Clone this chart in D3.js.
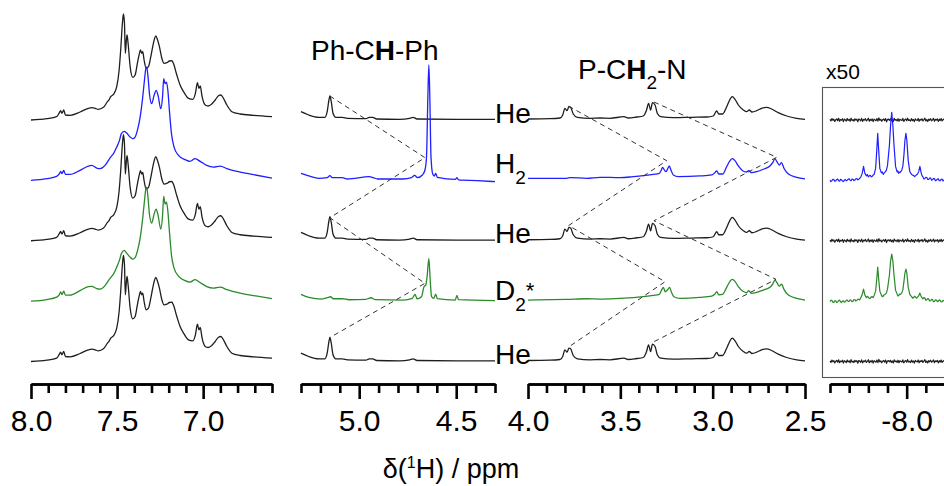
<!DOCTYPE html>
<html>
<head>
<meta charset="utf-8">
<script src="https://cdn.jsdelivr.net/npm/d3@7"></script>
<style>
  body { margin: 0; background: #fff; }
  svg text { font-family: "Liberation Sans", Arial, sans-serif; fill: #000; }
</style>
</head>
<body>
<svg id="chart" width="944" height="486"></svg>
<script>
// ---- Spectra: [chemical shift (ppm), intensity (a.u.)] ----

// Stacking order of the five spectra, top to bottom
const traceGases = ["He", "H2", "He", "D2", "He"];

// Aromatic region 8.0 - 6.6 ppm
const aromaticHe = [
  [8.000,0],[7.909,1.3],[7.851,3.3],[7.835,7.3],[7.828,9.3],[7.820,6.7],[7.810,10],[7.800,5],[7.773,4.7],
  [7.715,8],[7.667,11.7],[7.647,12.3],[7.628,11.7],[7.609,10.7],[7.579,12.7],[7.556,18.3],[7.545,20.7],
  [7.537,23.3],[7.521,25.7],[7.502,33.3],[7.488,50],[7.479,70],[7.469,96.7],[7.463,106],[7.457,96.7],
  [7.452,66.7],[7.446,80],[7.442,85],[7.436,76.7],[7.424,53.3],[7.409,42.7],[7.395,45],[7.382,56.7],
  [7.370,66.7],[7.364,70],[7.357,66.7],[7.351,68.3],[7.343,60],[7.331,51.7],[7.318,53.3],[7.304,63.3],
  [7.289,76.7],[7.275,84],[7.266,80.7],[7.254,73.3],[7.240,61.7],[7.227,56.7],[7.211,57.3],[7.196,59],
  [7.182,59.3],[7.173,56.7],[7.153,45],[7.134,35],[7.110,27.3],[7.085,21.7],[7.060,20.7],[7.045,26.7],
  [7.033,37.3],[7.025,31.7],[7.017,34],[7.006,23.3],[6.988,15],[6.971,14],[6.950,16],[6.930,20],
  [6.911,24.3],[6.897,25],[6.882,21.7],[6.862,15],[6.833,8.3],[6.785,6],[6.707,4.7],[6.600,3.3]
];
const aromaticH2 = [
  [8.000,0],[7.909,1.7],[7.851,4],[7.835,6.7],[7.828,9],[7.820,6.7],[7.810,10],[7.800,6],[7.773,6],
  [7.715,10],[7.667,14.3],[7.647,15],[7.618,12.3],[7.599,11.7],[7.570,15],[7.550,20],[7.537,23.3],
  [7.521,26.7],[7.502,33.3],[7.486,40],[7.475,46.7],[7.459,49],[7.444,47.3],[7.424,43.3],[7.409,41.7],
  [7.395,43.3],[7.382,50],[7.366,63.3],[7.351,83.3],[7.341,100],[7.333,111.7],[7.328,113.3],[7.320,103.3],
  [7.312,86.7],[7.299,76.7],[7.285,85],[7.273,90],[7.262,85],[7.246,71.7],[7.236,83.3],[7.229,101.7],
  [7.221,96.7],[7.213,98.3],[7.205,90],[7.196,70],[7.184,46.7],[7.169,33.3],[7.143,25],[7.105,20.7],
  [7.076,19],[7.047,21.7],[7.017,19],[6.979,15],[6.940,13.3],[6.901,14.3],[6.862,11.7],[6.785,8.3],
  [6.707,5.7],[6.600,2.3]
];
const aromaticD2 = [
  [8.000,0],[7.909,1.6],[7.851,4],[7.835,6.5],[7.828,9.2],[7.820,6.5],[7.810,10],[7.800,6],[7.773,6],
  [7.715,10.5],[7.667,14.5],[7.647,14.8],[7.618,12.5],[7.599,12],[7.570,15.5],[7.550,20.5],[7.537,23.5],
  [7.521,27],[7.502,34],[7.486,41],[7.475,47.5],[7.459,50.7],[7.444,48],[7.424,44],[7.409,42],
  [7.395,43.5],[7.382,50],[7.366,63],[7.351,83],[7.341,100],[7.333,112],[7.328,114],[7.320,103],
  [7.312,87],[7.299,78],[7.285,87],[7.273,92],[7.262,86],[7.246,72],[7.236,85],[7.229,104.7],
  [7.221,97],[7.213,99],[7.205,90],[7.196,70],[7.184,46],[7.169,33],[7.143,25],[7.105,20.5],
  [7.076,19],[7.047,21.5],[7.017,18.5],[6.979,14.5],[6.940,13],[6.901,14],[6.862,11.5],[6.785,8],
  [6.707,5.5],[6.600,2.5]
];

// Methine (Ph-CH-Ph) region 5.3 - 4.3 ppm
const methineHe = [
  [5.300,8.3],[5.260,5],[5.208,2.7],[5.177,2.7],[5.165,8.3],[5.156,20],[5.151,24],[5.144,18.3],[5.135,6.7],
  [5.121,2.7],[5.087,2.7],[5.061,1.7],[4.965,1.3],[4.948,2.7],[4.931,2.7],[4.910,1],[4.792,0.7],[4.740,1.7],
  [4.722,2.7],[4.702,1],[4.496,0.7],[4.300,0.7]
];
const methineH2 = [
  [5.300,7],[5.260,4.4],[5.208,2],[5.165,2.7],[5.151,4.7],[5.139,2.7],[5.087,2.7],[5.061,1.4],[4.948,3.7],
  [4.927,2.7],[4.905,1.4],[4.774,1.4],[4.731,2.7],[4.714,5],[4.700,2.7],[4.674,5.4],[4.661,10.4],
  [4.653,23.7],[4.646,83.7],[4.641,115.4],[4.636,83.7],[4.630,23.7],[4.621,6.4],[4.613,4.4],[4.606,7],
  [4.597,3],[4.505,1],[4.496,2.7],[4.488,0.4],[4.392,-0.3],[4.300,-1.3]
];
const methineD2 = [
  [5.300,6.8],[5.260,3.8],[5.191,2.1],[5.165,3.4],[5.147,4.4],[5.134,2.4],[5.087,2.4],[5.052,1.4],
  [4.965,1.8],[4.939,3.4],[4.917,1.4],[4.774,1.1],[4.726,2.8],[4.712,6.8],[4.702,2.4],[4.679,4.4],
  [4.666,14.4],[4.657,16.1],[4.650,24.4],[4.641,42.8],[4.634,21],[4.627,4.4],[4.615,2.8],[4.606,7.1],
  [4.597,2.4],[4.505,1.1],[4.496,5.8],[4.488,1.4],[4.300,0.4]
];

// Methylene (P-CH2-N) region 4.0 - 2.5 ppm
const methyleneHe = [
  [4.000,1],[3.881,1.3],[3.827,2],[3.812,5],[3.800,11.7],[3.789,9.3],[3.778,13.3],[3.769,12.7],[3.755,6],
  [3.733,2.7],[3.664,1.7],[3.610,2],[3.556,1.7],[3.480,3.3],[3.457,2],[3.411,3],[3.376,4],[3.358,10],
  [3.347,16.7],[3.336,10],[3.326,17.3],[3.312,15],[3.300,6.7],[3.282,3.3],[3.213,2.3],[3.114,2.7],
  [3.032,3],[2.997,4],[2.978,9],[2.967,6],[2.946,6],[2.924,13.3],[2.906,20.7],[2.894,23.3],[2.879,20.7],
  [2.861,15],[2.834,10],[2.816,8.3],[2.802,10],[2.787,8],[2.762,9.3],[2.735,11.7],[2.708,12.7],
  [2.681,11],[2.645,7.3],[2.599,4],[2.545,1.7],[2.500,0.7]
];
const methyleneH2 = [
  [4.000,2.1],[3.790,2.1],[3.772,2.7],[3.682,2.1],[3.610,3.1],[3.502,2.7],[3.430,3.7],[3.376,4.7],
  [3.322,6.1],[3.289,7.1],[3.278,10.4],[3.271,13.1],[3.262,10.4],[3.253,8.7],[3.242,12.1],[3.235,14.4],
  [3.226,10.4],[3.213,5.4],[3.186,3.7],[3.069,4.4],[3.005,5.4],[2.988,7.7],[2.978,9.4],[2.967,6.4],
  [2.946,6.4],[2.924,13.7],[2.906,19.7],[2.894,21.7],[2.879,19.7],[2.861,14.4],[2.838,9.7],[2.816,8.4],
  [2.805,9.7],[2.789,7.7],[2.762,8.7],[2.726,11.1],[2.690,14.4],[2.675,17.7],[2.663,21.7],[2.652,18.7],
  [2.639,15.4],[2.627,17.7],[2.614,12.1],[2.590,6.4],[2.545,3.1],[2.500,1.4]
];
const methyleneD2 = [
  [4.000,1.1],[3.790,1.8],[3.682,2.4],[3.610,2.1],[3.502,2.8],[3.430,3.4],[3.376,4.4],[3.322,5.8],
  [3.289,6.8],[3.278,10.4],[3.267,13.8],[3.257,9.4],[3.245,11.1],[3.233,13.8],[3.224,9.4],[3.210,4.4],
  [3.177,2.8],[3.069,3.8],[3.005,5.1],[2.988,7.1],[2.978,9.4],[2.967,6.4],[2.946,6.8],[2.924,13.8],
  [2.906,19.8],[2.894,21.8],[2.879,19.8],[2.861,14.4],[2.838,10.1],[2.816,8.4],[2.805,10.4],[2.789,7.8],
  [2.762,8.8],[2.726,11.1],[2.690,13.8],[2.675,17.1],[2.663,21.1],[2.652,18.4],[2.639,15.1],[2.627,17.1],
  [2.614,11.8],[2.590,6.1],[2.545,2.8],[2.500,1.1]
];

// Hydride region (x50): He spectra sampled every 0.005 ppm from -7.60 ppm
const hydrideStart = -7.60;
const hydrideStep = -0.005;
const hydrideHe = [
  0.6,-0.9,1.4,-0.3,0.8,-1.5,0.2,1.1,-0.7,1.7,-1.2,0.4,-0.2,1.3,-1.6,0.9,0.1,-1.0,1.5,-0.4,
  0.7,-1.3,1.9,-0.6,0.3,-1.1,1.2,-0.2,0.8,-1.7,1.0,0.4,-0.8,1.6,-1.4,0.5,-0.1,1.3,-0.9,0.2,
  1.8,-1.2,0.6,-0.5,1.1,-1.6,0.9,0.0,-0.7,1.4,-1.1,2.1,-0.4,0.7,-1.3,0.3,1.0,-0.6,1.5,-1.8,
  0.4,0.9,-0.3,1.2,-1.0,0.6,-1.5,1.7,-0.2,0.5,-0.9,1.3,-1.2,0.8,0.1,-0.6,1.6,-1.4,0.3,1.0,
  -0.8,1.9,-0.5,0.2,-1.1,1.4,-0.7,0.6,-1.6,1.1,0.0,-0.4,1.5,-1.3,0.7,-0.2,1.2,-0.9,0.4,1.8,
  -1.0,0.5,-1.5,0.9,-0.3,1.3,-0.8,0.2,1.6,-1.2,0.6,-0.1,1.0,-1.4,0.8,-0.6,1.4,-0.9,0.3,1.1,-0.5
];
const hydrideH2 = [
  [-7.600,0.3],[-7.605,-1.2],[-7.610,-0.2],[-7.615,1.1],[-7.620,0.8],[-7.625,-0.9],[-7.630,-0.5],[-7.635,0.9],
  [-7.640,1.2],[-7.645,-0.3],[-7.650,-0.8],[-7.655,1.0],[-7.660,0.5],[-7.665,-0.6],[-7.670,-1.2],[-7.675,0.4],
  [-7.680,0.9],[-7.685,-0.5],[-7.690,0.2],[-7.695,1.3],[-7.700,1.5],[-7.705,0.1],[-7.710,-0.3],[-7.715,1.4],
  [-7.720,1.1],[-7.725,-0.2],[-7.730,0.4],[-7.735,1.6],[-7.740,1.8],[-7.745,0.6],[-7.750,1.0],[-7.755,2.2],
  [-7.760,3.0],[-7.768,7],[-7.775,14],[-7.782,7],[-7.790,4.5],[-7.795,5.8],[-7.800,3.5],[-7.805,4.6],
  [-7.810,5.0],[-7.815,3.6],[-7.820,4.0],[-7.825,5.4],[-7.830,6.0],[-7.838,12],[-7.844,30],[-7.849,47],
  [-7.854,30],[-7.860,12],[-7.868,7.5],[-7.873,8.4],[-7.878,6.0],[-7.882,7.2],[-7.886,8.0],[-7.894,10],
  [-7.900,15],[-7.910,35],[-7.916,55],[-7.922,68],[-7.928,55],[-7.934,35],[-7.942,14],[-7.950,8.5],
  [-7.954,9.4],[-7.958,7],[-7.962,8.2],[-7.966,8],[-7.974,10],[-7.980,14],[-7.986,26],[-7.991,40],
  [-7.996,47],[-8.001,40],[-8.008,20],[-8.016,9],[-8.021,7.2],[-8.026,6],[-8.031,5.1],[-8.036,5],
  [-8.041,3.8],[-8.046,4.5],[-8.051,5.6],[-8.056,6],[-8.063,9],[-8.069,14],[-8.075,8],[-8.080,4.8],
  [-8.085,3.5],[-8.090,1.3],[-8.095,2.0],[-8.100,3.1],[-8.105,2.8],[-8.110,0.9],[-8.115,1.0],[-8.120,2.4],
  [-8.125,2.5],[-8.130,0.2],[-8.135,0.6],[-8.140,1.9],[-8.145,1.8],[-8.150,-0.4],[-8.155,0.2],[-8.160,1.3],
  [-8.165,1.5],[-8.170,-0.3],[-8.175,-0.4],[-8.180,1.0],[-8.185,1.2],[-8.190,-0.5],[-8.195,0.5]
];
const hydrideD2 = [
  [-7.600,-0.5],[-7.605,0.9],[-7.610,0.7],[-7.615,-1.0],[-7.620,-1.3],[-7.625,0.3],[-7.630,0.4],[-7.635,-1.4],
  [-7.640,-0.8],[-7.645,0.6],[-7.650,1.0],[-7.655,-0.7],[-7.660,-1.5],[-7.665,0.0],[-7.670,0.2],[-7.675,-1.1],
  [-7.680,-0.6],[-7.685,0.8],[-7.690,1.1],[-7.695,-0.4],[-7.700,-0.2],[-7.705,1.2],[-7.710,0.9],[-7.715,-0.6],
  [-7.720,0.0],[-7.725,1.5],[-7.730,1.4],[-7.735,0.1],[-7.740,0.6],[-7.745,2.0],[-7.750,1.9],[-7.755,1.2],
  [-7.760,3.2],[-7.768,6.5],[-7.775,12],[-7.782,6],[-7.790,3.5],[-7.795,4.8],[-7.800,4.0],[-7.805,2.6],
  [-7.810,2.8],[-7.815,4.2],[-7.820,4.5],[-7.825,3.4],[-7.830,5.5],[-7.838,10],[-7.844,22],[-7.849,34],
  [-7.854,22],[-7.860,10],[-7.868,6],[-7.873,4.5],[-7.878,5.0],[-7.882,6.4],[-7.886,6.5],[-7.894,8],
  [-7.900,12],[-7.910,26],[-7.916,40],[-7.922,47],[-7.928,40],[-7.934,26],[-7.942,11],[-7.950,7],
  [-7.954,5.2],[-7.958,5.5],[-7.962,7.1],[-7.966,6.5],[-7.974,8],[-7.980,11],[-7.986,20],[-7.991,28],
  [-7.996,32],[-8.001,28],[-8.008,14],[-8.016,7],[-8.021,5.5],[-8.026,4.5],[-8.031,3.0],[-8.036,3.5],
  [-8.041,4.9],[-8.046,4.2],[-8.051,2.9],[-8.056,3.8],[-8.063,5.5],[-8.069,8],[-8.075,5],[-8.080,3.4],
  [-8.085,2.2],[-8.090,3.6],[-8.095,3.0],[-8.100,1.0],[-8.105,1.2],[-8.110,2.6],[-8.115,2.0],[-8.120,0.1],
  [-8.125,0.4],[-8.130,1.8],[-8.135,1.5],[-8.140,-0.6],[-8.145,-0.3],[-8.150,1.3],[-8.155,1.1],[-8.160,-0.5],
  [-8.165,0.0],[-8.170,1.2],[-8.175,0.8],[-8.180,-0.9],[-8.185,-0.6],[-8.190,0.7],[-8.195,0.3]
];

// Shift correlations: [spectrum index, ppm, intensity]
const methineLinks   = [[0,5.151,24],[1,4.661,22.7],[2,5.151,23],[3,4.661,17.8],[4,5.151,24]];
const methyleneLinkA = [[0,3.780,13.8],[1,3.249,19.7],[2,3.780,15.2],[3,3.258,19.4],[4,3.780,14.5]];
const methyleneLinkB = [[0,3.318,18],[1,2.653,23.1],[2,3.318,20],[3,2.657,21.8],[4,3.318,19.8]];

// Axis tick labels
const aromaticMajor  = [8.0, 7.5, 7.0];
const methineMajor   = [5.0, 4.5];
const methyleneMajor = [4.0, 3.5, 3.0, 2.5];
const hydrideMajor   = [-8.0];

// ---- Drawing ----
const svg = d3.select("#chart");
const colors = { He: "#1e1e1e", H2: "#1f1fff", D2: "#2b8a2b" };
const axisY = 384;

const baseY = d3.scalePoint().domain(d3.range(traceGases.length)).range([120, 361.5]);
const yInt = d3.scaleLinear().domain([0, 100]).range([0, -100]);

const hydrideHeSeries = hydrideHe.map((v, i) => [hydrideStart + i * hydrideStep, v]);

const panels = [
  { domain: [8.0, 6.6],  range: [31, 272],  major: aromaticMajor,
    data: { He: aromaticHe, H2: aromaticH2, D2: aromaticD2 }, curve: d3.curveMonotoneX },
  { domain: [5.3, 4.3],  range: [301, 495], major: methineMajor,
    data: { He: methineHe, H2: methineH2, D2: methineD2 }, curve: d3.curveMonotoneX },
  { domain: [4.0, 2.5],  range: [528, 805], major: methyleneMajor,
    data: { He: methyleneHe, H2: methyleneH2, D2: methyleneD2 }, curve: d3.curveMonotoneX },
  { domain: [-7.6, -8.2], range: [830, 945], major: hydrideMajor,
    data: { He: hydrideHeSeries, H2: hydrideH2, D2: hydrideD2 }, curve: d3.curveLinear }
];
panels.forEach(p => { p.x = d3.scaleLinear().domain(p.domain).range(p.range); });

// inset frame for the x50 hydride window
svg.append("rect")
  .attr("x", 822.5).attr("y", 87.5).attr("width", 200).attr("height", 290)
  .attr("fill", "none").attr("stroke", "#555").attr("stroke-width", 1.1);
svg.append("text").attr("x", 826).attr("y", 79).attr("font-size", 21).text("x50");

// spectra, drawn top to bottom so lower traces overlay upper ones
traceGases.forEach((gas, i) => {
  const y0 = baseY(i);
  panels.forEach((p, k) => {
    const line = d3.line()
      .x(d => p.x(d[0]))
      .y(d => y0 + yInt(d[1]))
      .curve(p.curve);
    svg.append("path")
      .datum(p.data[gas])
      .attr("d", line)
      .attr("fill", "none")
      .attr("stroke", colors[gas])
      .attr("stroke-width", k === 3 ? 1.2 : 1.3)
      .attr("stroke-linejoin", "round");
  });
});

// dashed correlation lines
const linkLine = (p) => d3.line()
  .x(d => p.x(d[1]))
  .y(d => baseY(d[0]) + yInt(d[2]));
[[panels[1], methineLinks], [panels[2], methyleneLinkA], [panels[2], methyleneLinkB]].forEach(([p, pts]) => {
  svg.append("path")
    .datum(pts)
    .attr("d", linkLine(p))
    .attr("fill", "none")
    .attr("stroke", "#333")
    .attr("stroke-width", 1)
    .attr("stroke-dasharray", "5,4");
});

// gas labels between the methine and methylene windows
const labelX = 495;
traceGases.forEach((gas, i) => {
  const y0 = baseY(i);
  const t = svg.append("text").attr("x", labelX).attr("font-size", 28);
  if (gas === "He") {
    t.attr("y", y0 + 2.5).text("He");
  } else if (gas === "H2") {
    t.attr("y", y0 - 7);
    t.append("tspan").text("H");
    t.append("tspan").attr("font-size", 19).attr("dy", 10.5).text("2");
  } else {
    t.attr("y", y0 - 1);
    t.append("tspan").text("D");
    t.append("tspan").attr("font-size", 19).attr("dy", 11).text("2");
    t.append("tspan").attr("font-size", 22).attr("dy", -13).text("*");
  }
});

// region titles
const t1 = svg.append("text").attr("x", 311).attr("y", 60).attr("font-size", 28);
t1.append("tspan").text("Ph-C");
t1.append("tspan").attr("font-weight", "bold").text("H");
t1.append("tspan").text("-Ph");

const t2 = svg.append("text").attr("x", 578).attr("y", 79).attr("font-size", 28);
t2.append("tspan").text("P-C");
t2.append("tspan").attr("font-weight", "bold").text("H");
t2.append("tspan").attr("font-size", 19).attr("dy", 10).text("2");
t2.append("tspan").attr("dy", -10).text("-N");

// x axes: minor ticks every 0.1 ppm, labelled major ticks every 0.5 ppm
panels.forEach(p => {
  const dir = p.domain[1] > p.domain[0] ? 1 : -1;
  const n = Math.round(Math.abs(p.domain[1] - p.domain[0]) / 0.1);
  const all = d3.range(n + 1).map(i => +(p.domain[0] + dir * i * 0.1).toFixed(1));
  const minor = all.filter(v => !p.major.includes(v));
  const g = svg.append("g").attr("transform", `translate(0,${axisY})`);
  g.append("g").call(d3.axisBottom(p.x).tickValues(minor).tickSize(9).tickSizeOuter(0).tickFormat(""));
  g.append("g").call(d3.axisBottom(p.x).tickValues(p.major).tickSize(15).tickSizeOuter(0)
    .tickPadding(11).tickFormat(d => d.toFixed(1)));
  g.selectAll("path.domain").attr("stroke", "#000").attr("stroke-width", 2.6);
  g.selectAll(".tick line").attr("stroke", "#000").attr("stroke-width", 2.6);
  g.selectAll(".tick text")
    .attr("font-size", 30)
    .attr("font-family", "'Liberation Sans', Arial, sans-serif")
    .attr("fill", "#000");
});

// axis title
const xt = svg.append("text").attr("x", 451).attr("y", 478).attr("font-size", 27).attr("text-anchor", "middle");
xt.append("tspan").text("δ(");
xt.append("tspan").attr("font-size", 16).attr("dy", -10).text("1");
xt.append("tspan").attr("dy", 10).text("H) / ppm");
</script>
</body>
</html>
